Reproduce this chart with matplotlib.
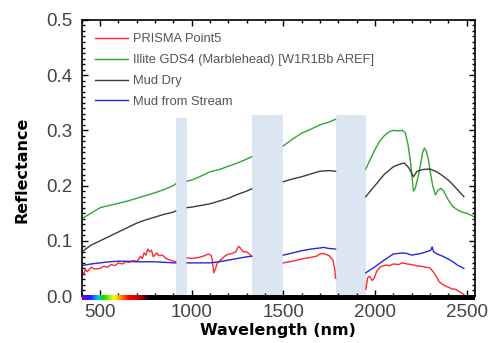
#!/usr/bin/env python3
"""
Reflectance spectra: PRISMA pixel vs USGS library (illite, mud)
Output: out.png (490x343px)
"""

import matplotlib
matplotlib.use("Agg")
import matplotlib.pyplot as plt
import numpy as np
from matplotlib.colors import LinearSegmentedColormap
from matplotlib.ticker import MultipleLocator, FormatStrFormatter

nan = np.nan

# ─── DATA (nan = atmospheric water band gap) ─────────────────────────────────

prisma_wl = [400, 410, 420, 430, 450, 470, 500, 520, 540, 560, 580, 600, 620, 640,
             660, 680, 700, 710, 720, 730, 740, 750, 760, 770, 780, 790, 800, 810,
             820, 840, 860, 880, 900, 912, nan,
             975, 1000, 1040, 1070, 1090, 1105, 1112, 1120, 1130, 1140, 1160, 1180,
             1200, 1220, 1240, 1255, 1265, 1280, 1300, 1315, 1327, nan,
             1500, 1550, 1600, 1650, 1680, 1700, 1720, 1750, 1770, 1780, 1785, nan,
             1950, 1960, 1970, 1985, 1995, 2010, 2030, 2060, 2080, 2100, 2130, 2150,
             2175, 2200, 2225, 2250, 2280, 2300, 2310, 2320, 2335, 2350, 2365, 2380,
             2400, 2420, 2440, 2460, 2475, 2490, 2500]
prisma_r = [0.045, 0.040, 0.048, 0.044, 0.052, 0.049, 0.050, 0.054, 0.052, 0.057,
            0.055, 0.060, 0.058, 0.062, 0.061, 0.064, 0.063, 0.066, 0.072, 0.068,
            0.078, 0.074, 0.085, 0.080, 0.083, 0.071, 0.075, 0.078, 0.073, 0.074,
            0.068, 0.065, 0.063, 0.062, nan,
            0.069, 0.068, 0.070, 0.073, 0.076, 0.074, 0.066, 0.042, 0.050, 0.060,
            0.066, 0.072, 0.076, 0.077, 0.080, 0.090, 0.087, 0.080, 0.080, 0.076,
            0.072, nan,
            0.060, 0.063, 0.067, 0.070, 0.072, 0.076, 0.077, 0.073, 0.065, 0.050,
            0.032, nan,
            0.012, 0.033, 0.036, 0.028, 0.032, 0.045, 0.053, 0.056, 0.055, 0.058,
            0.057, 0.060, 0.058, 0.057, 0.055, 0.054, 0.052, 0.051, 0.047, 0.043,
            0.035, 0.026, 0.022, 0.019, 0.016, 0.013, 0.012, 0.008, 0.005, 0.001,
            0.000]

illite_wl = [400, 450, 500, 550, 600, 650, 700, 750, 800, 850, 900, 912, nan,
             975, 1000, 1050, 1100, 1150, 1200, 1250, 1300, 1327, nan,
             1500, 1550, 1600, 1650, 1700, 1750, 1785, nan,
             1950, 1975, 2000, 2025, 2050, 2075, 2100, 2125, 2150, 2165, 2180, 2195,
             2210, 2220, 2235, 2250, 2260, 2270, 2280, 2290, 2300, 2315, 2330, 2345,
             2360, 2375, 2400, 2425, 2450, 2475, 2500, 2545]
illite_r = [0.140, 0.150, 0.160, 0.164, 0.168, 0.172, 0.177, 0.182, 0.187, 0.193,
            0.200, 0.203, nan,
            0.208, 0.210, 0.217, 0.225, 0.229, 0.235, 0.241, 0.248, 0.252, nan,
            0.272, 0.284, 0.295, 0.302, 0.310, 0.315, 0.320, nan,
            0.230, 0.248, 0.265, 0.280, 0.290, 0.297, 0.300, 0.299, 0.300, 0.296,
            0.275, 0.240, 0.190, 0.195, 0.215, 0.240, 0.260, 0.268, 0.262, 0.250,
            0.228, 0.200, 0.183, 0.192, 0.195, 0.190, 0.174, 0.162, 0.156, 0.152,
            0.150, 0.143]

mud_dry_wl = [400, 450, 500, 550, 600, 650, 700, 750, 800, 850, 900, 912, nan,
              975, 1000, 1050, 1100, 1150, 1200, 1250, 1300, 1327, nan,
              1500, 1550, 1600, 1650, 1700, 1750, 1785, nan,
              1950, 2000, 2050, 2100, 2130, 2160, 2185, 2210, 2230, 2260, 2300, 2330,
              2360, 2400, 2430, 2460, 2485]
mud_dry_r = [0.080, 0.092, 0.100, 0.108, 0.116, 0.124, 0.132, 0.138, 0.143, 0.148,
             0.152, 0.154, nan,
             0.160, 0.161, 0.164, 0.167, 0.172, 0.177, 0.184, 0.190, 0.194, nan,
             0.207, 0.212, 0.216, 0.221, 0.226, 0.227, 0.226, nan,
             0.180, 0.200, 0.220, 0.234, 0.238, 0.241, 0.232, 0.216, 0.226, 0.229,
             0.230, 0.226, 0.220, 0.210, 0.200, 0.189, 0.180]

mud_stream_wl = [400, 450, 500, 550, 600, 650, 700, 750, 800, 850, 900, 912, nan,
                 975, 1050, 1100, 1150, 1200, 1250, 1300, 1327, nan,
                 1500, 1550, 1600, 1650, 1700, 1720, 1750, 1785, nan,
                 1950, 2000, 2050, 2100, 2150, 2175, 2200, 2250, 2290, 2305, 2312,
                 2320, 2340, 2370, 2400, 2430, 2450, 2485]
mud_stream_r = [0.055, 0.058, 0.060, 0.062, 0.063, 0.063, 0.062, 0.062, 0.062,
                0.061, 0.060, 0.060, nan,
                0.060, 0.060, 0.060, 0.062, 0.065, 0.068, 0.071, 0.072, nan,
                0.074, 0.078, 0.082, 0.085, 0.087, 0.088, 0.086, 0.085, nan,
                0.042, 0.053, 0.065, 0.076, 0.078, 0.077, 0.074, 0.077, 0.081,
                0.083, 0.089, 0.080, 0.076, 0.072, 0.067, 0.061, 0.056, 0.050]

labels = ["PRISMA Point5", "Illite GDS4 (Marblehead) [W1R1Bb AREF]",
          "Mud Dry", "Mud from Stream"]

# masked absorption bands
band_start = [912, 1327, 1785]
band_end = [975, 1500, 1950]
band_top = [0.322, 0.328, 0.328]

# ─── STYLE ────────────────────────────────────────────────────────────────────

RED = "#ff2a2a"
GREEN = "#33a532"
DARK = "#3c3c3c"
BLUE = "#2626dd"
BAND = "#dce6f2"
TICK_CLR = "#444444"
XLIM = (400, 2545)


def draw():
    plt.rcParams["font.family"] = ["Liberation Sans", "DejaVu Sans"]
    fig = plt.figure(figsize=(4.9, 3.43), dpi=100)
    ax = fig.add_axes([0.167, 0.137, 0.802, 0.805])

    # bands behind
    widths = np.array(band_end) - np.array(band_start)
    ax.bar(band_start, band_top, width=widths, align="edge",
           color=BAND, edgecolor="none", zorder=1)

    series = [(prisma_wl, prisma_r, RED), (illite_wl, illite_r, GREEN),
              (mud_dry_wl, mud_dry_r, DARK), (mud_stream_wl, mud_stream_r, BLUE)]
    for (wl, r, c), lab in zip(series, labels):
        ax.plot(wl, r, color=c, lw=1.0, label=lab, zorder=2)

    ax.set_xlim(*XLIM)
    ax.set_ylim(0, 0.5)

    ax.xaxis.set_major_locator(MultipleLocator(500))
    ax.xaxis.set_minor_locator(MultipleLocator(100))
    ax.yaxis.set_major_locator(MultipleLocator(0.1))
    ax.yaxis.set_minor_locator(MultipleLocator(0.01))
    ax.yaxis.set_major_formatter(FormatStrFormatter("%.1f"))
    ax.tick_params(which="both", direction="in", top=True, right=True,
                   colors="black", labelcolor=TICK_CLR, labelsize=13.5, width=1.0)
    ax.tick_params(which="major", length=4.5)
    ax.tick_params(which="minor", length=2.5)
    ax.tick_params(axis="y", pad=7)
    ax.tick_params(axis="x", pad=6)
    for s in ax.spines.values():
        s.set_linewidth(1.2)

    ax.set_xlabel("Wavelength (nm)", fontsize=11.5, fontweight="bold",
                  family="DejaVu Sans", labelpad=1)
    ax.set_ylabel("Reflectance", fontsize=11.5, fontweight="bold",
                  family="DejaVu Sans")
    ax.yaxis.set_label_coords(-0.133, 0.457)

    leg = ax.legend(loc="upper left", frameon=False, fontsize=9.3,
                    handlelength=2.5, handletextpad=0.45, labelspacing=0.68,
                    borderaxespad=0.65)
    for t in leg.get_texts():
        t.set_color("#555555")

    # visible-spectrum strip along the bottom spine
    pos = ax.get_position()
    cax = fig.add_axes([pos.x0, pos.y0 - 4 / 343, pos.width, 5 / 343])
    span = XLIM[1] - XLIM[0]
    anchors = [(400, "#7a00d9"), (440, "#2020ff"), (480, "#00c8ff"),
               (510, "#00e000"), (570, "#ffff00"), (610, "#ff8000"),
               (650, "#ff0000"), (700, "#d00000"), (770, "#000000"),
               (XLIM[1], "#000000")]
    cmap = LinearSegmentedColormap.from_list(
        "spec", [((w - XLIM[0]) / span, c) for w, c in anchors])
    cax.imshow(np.linspace(0, 1, 600)[None, :], aspect="auto", cmap=cmap,
               extent=[XLIM[0], XLIM[1], 0, 1])
    cax.axis("off")

    fig.savefig("out.png", dpi=100, facecolor="white")
    plt.close(fig)


if __name__ == "__main__":
    draw()
